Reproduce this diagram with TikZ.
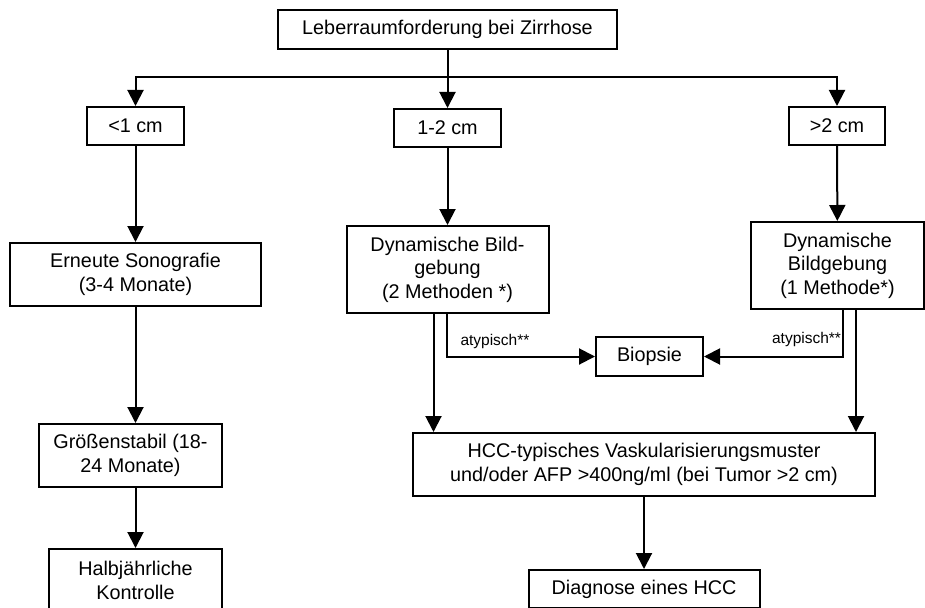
\documentclass[tikz,border=0pt]{standalone}
\usepackage{fontspec}
\setmainfont{Liberation Sans}
\usepackage{tikz}
\usetikzlibrary{positioning, arrows.meta}
\tikzset{fbox/.style={draw, line width=2pt, inner sep=0pt, align=center, font=\fontsize{19.8}{23.4}\selectfont}}
\tikzset{arr/.style={draw, line width=2pt, -{Triangle[width=16pt, length=16pt]}}}
\tikzset{lbl/.style={inner sep=0pt, font=\fontsize{15.5}{18}\selectfont}}

\begin{document}
\begin{tikzpicture}[x=1pt, y=-1pt]
			\useasboundingbox (0,0) rectangle (925,607);
			\node[fbox, minimum width=339pt, minimum height=39pt] (root) at (447.5,29.5) {Leberraumforderung bei Zirrhose};
			\node[fbox, minimum width=107pt, minimum height=38pt, below=58pt of root] (mid) {1-2 cm};
			\node[fbox, minimum width=97pt, minimum height=38pt] (small) at (135.5,126) {<1 cm};
			\node[fbox, minimum width=96pt, minimum height=38pt] (large) at (837,126) {>2 cm};
			%
			\node[fbox, minimum width=251pt, minimum height=63pt, below=96pt of small] (sono) {Erneute Sonografie\\(3-4 Monate)};
			\node[fbox, minimum width=183pt, minimum height=63pt] (stabil) at (130.5,455.5) {Größenstabil (18-\\24 Monate)};
			\node[fbox, minimum width=173pt, minimum height=63pt] (halb) at (135.5,580.5) {Halbjährliche\\Kontrolle};
			%
			\node[fbox, minimum width=202pt, minimum height=87pt, below=77pt of mid] (dyn2) {Dynamische Bild-\\gebung\\(2 Methoden *)};
			\node[fbox, minimum width=173pt, minimum height=87pt] (dyn1) at (837.5,265.5) {Dynamische\\Bildgebung\\(1 Methode*)};
			\node[fbox, minimum width=107pt, minimum height=39pt] (bio) at (649.5,356.5) {Biopsie};
			\node[fbox, minimum width=462pt, minimum height=63pt] (hcc) at (644,464.5) {HCC-typisches Vaskularisierungsmuster\\und/oder AFP >400ng/ml (bei Tumor >2 cm)};
			\node[fbox, minimum width=231pt, minimum height=38pt, below=72pt of hcc] (diag) {Diagnose eines HCC};
			%
			\coordinate (split) at (447.5,77);
			\draw[arr] (root) -- (mid);
			\draw[arr] (split) -| (small);
			\draw[arr] (split) -| (large);
			\draw[arr] (small) -- (sono);
			\draw[arr] (sono.south) -- (sono.south |- stabil.north);
			\draw[arr] (stabil.south -| halb) -- (halb);
			\draw[arr] (mid) -- (dyn2);
			\draw[arr] (large) -- (dyn1);
			%
			\draw[arr] ([xshift=-1pt]dyn2.south) |- (bio.west)
				node[lbl, pos=0.32, anchor=west, xshift=13pt] {atypisch**};
			\draw[arr] ([xshift=5.5pt]dyn1.south) |- (bio.east)
				node[lbl, pos=0.32, anchor=east, xshift=-1pt] {atypisch**};
			\draw[arr] ([xshift=-14pt]dyn2.south) -- ([xshift=-14pt]dyn2.south |- hcc.north);
			\draw[arr] ([xshift=18.5pt]dyn1.south) -- ([xshift=18.5pt]dyn1.south |- hcc.north);
			\draw[arr] (hcc) -- (diag);
		\end{tikzpicture}
\end{document}
